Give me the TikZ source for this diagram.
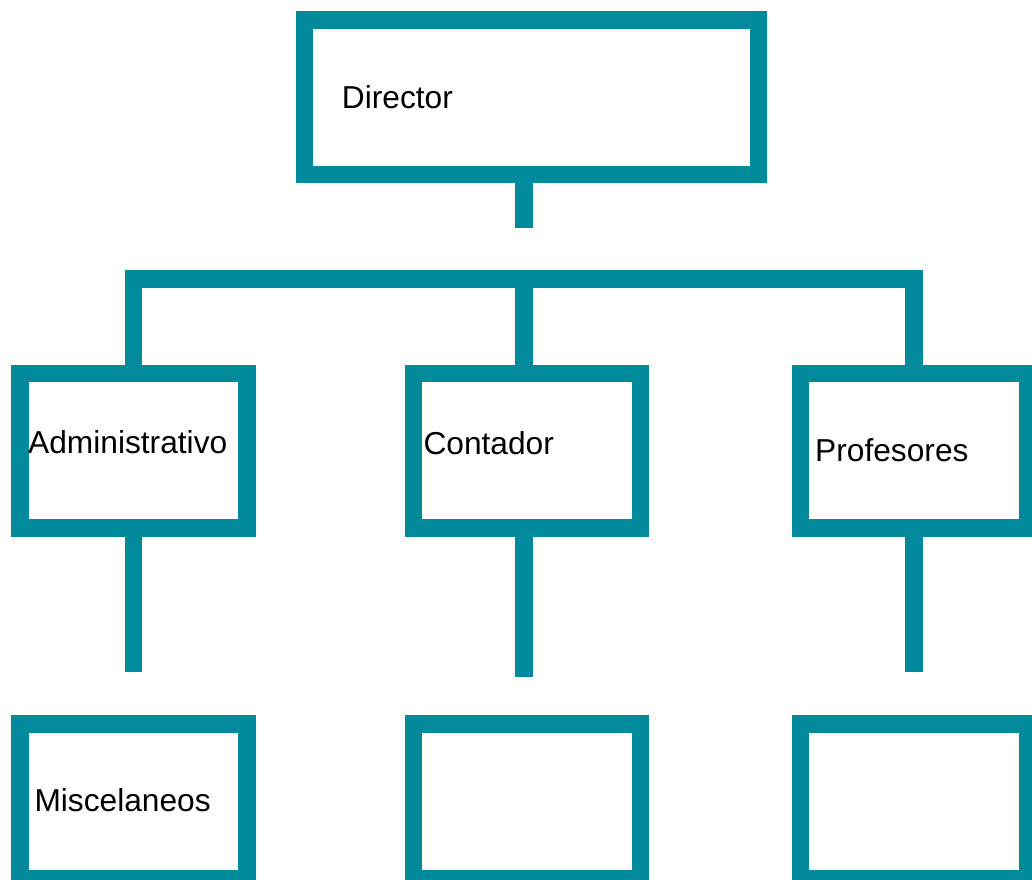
\documentclass[tikz,border=0pt]{standalone}
\usepackage{fontspec}
\setmainfont{Liberation Sans}
\definecolor{teal1}{RGB}{0,138,155}
\newcommand{\lbl}{\fontsize{31.7}{38}\selectfont}

\begin{document}
\begin{tikzpicture}[x=1pt,y=-1pt,
   box/.style={draw=teal1,line width=17.5pt,minimum width=227pt,minimum height=154.7pt,inner sep=0pt},
   link/.style={draw=teal1,line width=17.5pt},
   txt/.style={anchor=base west,inner sep=0pt,font=\lbl}]
   \useasboundingbox (0,0) rectangle (1032,879);
   \clip (0,0) rectangle (1032,879);
   \node[box,minimum width=454pt,minimum height=154.5pt] (dir) at (531.5,97) {};
   \node[box] (adm) at (133.7,450.6) {};
   \node[box] (con) at (527,450.6) {};
   \node[box] (pro) at (913.9,450.6) {};
   \node[box] (mis) at (133.7,801.4) {};
   \node[box] (con2) at (527,801.4) {};
   \node[box] (pro2) at (913.9,801.4) {};
   \coordinate (dstub) at (524,227.7);
   \coordinate (bar) at (524,279);
   \coordinate (aend) at (133.7,671.7);
   \coordinate (cend) at (524,677.3);
   \coordinate (pend) at (913.9,671.7);
   \draw[link] (dstub |- dir.south) -- (dstub);
   \draw[link] (adm.north) |- (bar) -| (pro.north);
   \draw[link] (bar) -- (bar |- con.north);
   \draw[link] (adm.south) -- (aend);
   \draw[link] (cend |- con.south) -- (cend);
   \draw[link] (pro.south) -- (pend);
   \node[txt] (tdir) at (341.7,108.3) {Director};
   \node[txt] (tadm) at (28,453.3) {Administrativo};
   \node[txt] (tcon) at (423.3,454) {Contador};
   \node[txt] (tpro) at (815,461) {Profesores};
   \node[txt] (tmis) at (34.3,811.7) {Miscelaneos};
\end{tikzpicture}
\end{document}
